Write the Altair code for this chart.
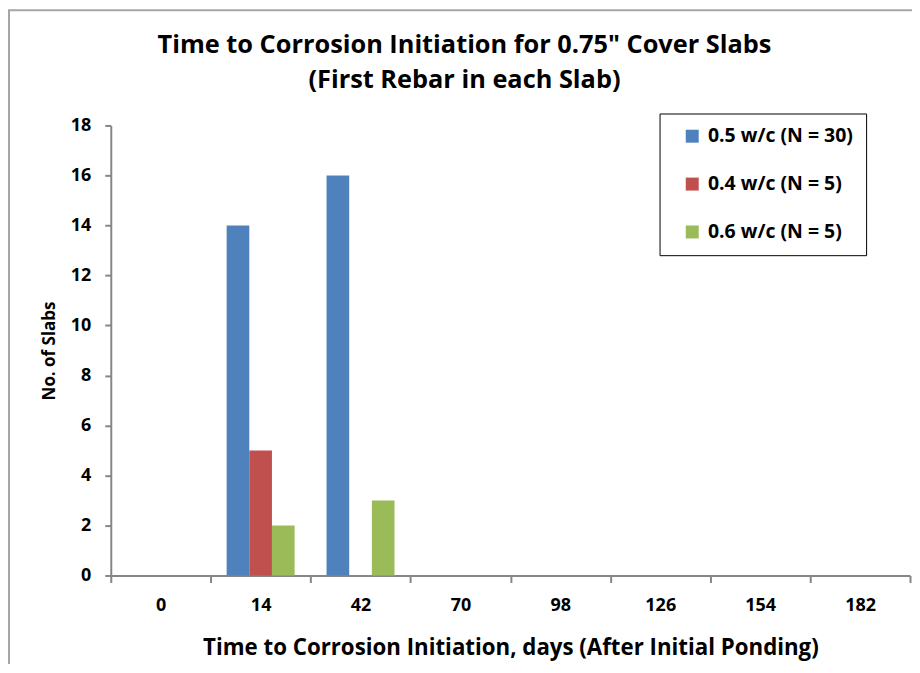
import altair as alt
import pandas as pd

# ---- data ----
categories = ["0", "14", "42", "70", "98", "126", "154", "182"]
series = ["0.5 w/c (N = 30)", "0.4 w/c (N = 5)", "0.6 w/c (N = 5)"]
vals_05 = [0, 14, 16, 0, 0, 0, 0, 0]
vals_04 = [0, 5, 0, 0, 0, 0, 0, 0]
vals_06 = [0, 2, 3, 0, 0, 0, 0, 0]
colors = ["#4F81BD", "#C0504D", "#9BBB59"]
y_ticks = [0, 2, 4, 6, 8, 10, 12, 14, 16, 18]

title_lines = ["Time to Corrosion Initiation for 0.75\" Cover Slabs",
               "(First Rebar in each Slab)"]
x_title = "Time to Corrosion Initiation, days (After Initial Ponding)"
y_title = "No. of Slabs"

rows = []
for s, vals in zip(series, [vals_05, vals_04, vals_06]):
    for c, v in zip(categories, vals):
        rows.append({"Days": c, "Series": s, "Slabs": v})
df = pd.DataFrame(rows)

FONT = "Open Sans"
AXIS_GRAY = "#868686"
W, H = 801, 451

bars = alt.Chart(df).mark_bar(strokeWidth=0).encode(
    x=alt.X("Days:N", sort=categories,
            scale=alt.Scale(paddingInner=0, paddingOuter=0),
            axis=alt.Axis(title=x_title, labelAngle=0, tickBand="extent",
                          tickSize=7, tickColor=AXIS_GRAY, domainColor=AXIS_GRAY,
                          tickWidth=2, domainWidth=2,
                          labelFont=FONT, labelFontSize=18, labelFontWeight="bold",
                          labelColor="black", labelPadding=14,
                          titleFont=FONT, titleFontSize=22.3, titleFontWeight="bold",
                          titleColor="black", titlePadding=22)),
    xOffset=alt.XOffset("Series:N", sort=series,
                        scale=alt.Scale(domain=series, paddingInner=0, paddingOuter=0.705)),
    y=alt.Y("Slabs:Q", scale=alt.Scale(domain=[0, 18], nice=False),
            axis=alt.Axis(title=y_title, values=y_ticks, grid=False,
                          tickSize=6, tickColor=AXIS_GRAY, domainColor=AXIS_GRAY,
                          tickWidth=2, domainWidth=2,
                          labelFont=FONT, labelFontSize=18, labelFontWeight="bold",
                          labelColor="black", labelPadding=14,
                          titleFont=FONT, titleFontSize=17, titleFontWeight="bold",
                          titleColor="black", titlePadding=12)),
    color=alt.Color("Series:N", sort=series,
                    scale=alt.Scale(domain=series, range=colors),
                    legend=alt.Legend(title=None, orient="none", legendX=550, legendY=-12,
                                      strokeColor="black", fillColor="white",
                                      padding=13, rowPadding=27,
                                      symbolType="square", symbolSize=169,
                                      symbolOffset=10,
                                      symbolStrokeWidth=0, labelOffset=6,
                                      labelFont=FONT, labelFontSize=19.5,
                                      labelFontWeight="bold", labelColor="black")),
)

frame_df = pd.DataFrame({"k": [0]})
frame_left = alt.Chart(frame_df).mark_rule(color="#A6A6A6", strokeWidth=2).encode(
    x=alt.value(-102), y=alt.value(-116), y2=alt.value(H + 100))
frame_top = alt.Chart(frame_df).mark_rule(color="#A6A6A6", strokeWidth=2).encode(
    x=alt.value(-103), x2=alt.value(W + 20), y=alt.value(-115.5))

chart = alt.layer(frame_left, frame_top, bars).properties(
    width=W, height=H,
    title=alt.Title(text=title_lines, font=FONT, fontSize=25.4, fontWeight="bold",
                    color="black", anchor="middle", dx=-46, lineHeight=35, offset=-85),
    autosize=alt.AutoSizeParams(type="none"),
    padding={"left": 103, "top": 117, "right": 2, "bottom": 88},
).configure_view(stroke=None)

chart.save("out.html", embed_options={"renderer": "svg", "actions": False})
